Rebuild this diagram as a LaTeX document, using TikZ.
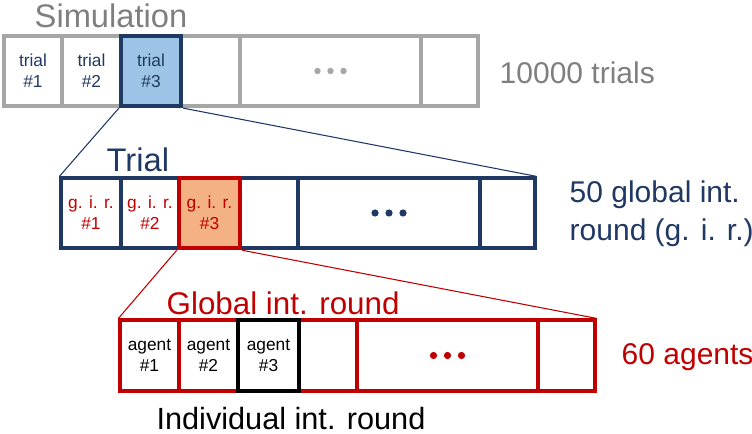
\documentclass[tikz,border=0pt]{standalone}
\usepackage{fontspec}
\setmainfont{Liberation Sans}
\usepackage{xcolor}
\usepackage{tikz}
\definecolor{simgray}{RGB}{166, 166, 166}
\definecolor{txtgray}{RGB}{127, 127, 127}
\definecolor{darkblue}{RGB}{32, 56, 100}
\definecolor{lightblue}{RGB}{157, 195, 230}
\definecolor{darkred}{RGB}{192, 0, 0}
\definecolor{lightorange}{RGB}{244, 177, 131}

\begin{document}
\begin{tikzpicture}[x=0.75pt, y=-0.75pt,
    cell/.style={draw, line width=2.4pt, inner sep=0pt, minimum height=52.5pt,
        align=center, font=\fontsize{13}{15.5}\selectfont},
    simcell/.style={cell, draw=simgray, text=darkblue},
    tricell/.style={cell, draw=darkblue, text=darkred},
    roundcell/.style={cell, draw=darkred, text=black, minimum height=53.25pt},
    title/.style={anchor=base west, font=\fontsize{24.5}{29}\selectfont},
    side/.style={anchor=west, align=left, font=\fontsize{22.5}{28.5}\selectfont}]
    \useasboundingbox (0,0) rectangle (752,434);

    % Simulation
    \node[title, txtgray] (simtitle) at (30,28) {Simulation};
    \node[simcell, minimum width=43.5pt] (sim1) at (33,71) {trial\\\#1};
    \node[simcell, minimum width=44.25pt] (sim2) at (91.5,71) {trial\\\#2};
    \node[simcell, minimum width=44.25pt] (sim4) at (210.5,71) {};
    \node[simcell, minimum width=135.75pt] (sim5) at (330.5,71) {};
    \node[simcell, minimum width=42.75pt] (sim6) at (449.5,71) {};
    \node[simcell, draw=darkblue, fill=lightblue, line width=3.2pt, minimum width=45pt] (sim3) at (151,71) {trial\\\#3};
    \foreach \d in {-13,0,13}
        \fill[simgray] ([xshift=\d*0.75pt]sim5.center) circle (2.4pt);
    \node[side, txtgray] (simlabel) at (495,73) {10000 trials};

    % Trial
    \node[title, darkblue] (trititle) at (102,172) {Trial};
    \node[tricell, minimum width=45pt] (tri1) at (91,213) {g. i. r.\\\#1};
    \node[tricell, minimum width=43.5pt] (tri2) at (150,213) {g. i. r.\\\#2};
    \node[tricell, minimum width=43.5pt] (tri4) at (269,213) {};
    \node[tricell, minimum width=136.5pt] (tri5) at (389,213) {};
    \node[tricell, minimum width=41.25pt] (tri6) at (507.5,213) {};
    \node[tricell, draw=darkred, fill=lightorange, line width=3.4pt, minimum width=45.75pt] (tri3) at (209.5,213) {g. i. r.\\\#3};
    \foreach \d in {-14,0,14}
        \fill[darkblue] ([xshift=\d*0.75pt]tri5.center) circle (2.7pt);
    \node[side, darkblue] (trilabel) at (565,214) {50 global int.\\round (g. i. r.)};

    % Global int. round
    \node[title, darkred, font=\fontsize{23.5}{28}\selectfont] (girtitle) at (162,315) {Global int. round};
    \node[roundcell, minimum width=44.25pt] (gir1) at (149.5,355.5) {agent\\\#1};
    \node[roundcell, minimum width=44.25pt] (gir2) at (208.5,355.5) {agent\\\#2};
    \node[roundcell, minimum width=43.5pt] (gir4) at (328,355.5) {};
    \node[roundcell, minimum width=135.75pt] (gir5) at (447.5,355.5) {};
    \node[roundcell, minimum width=42.75pt] (gir6) at (566.5,355.5) {};
    \node[roundcell, draw=black, line width=3pt, minimum width=45.75pt] (gir3) at (268.5,355.5) {agent\\\#3};
    \foreach \d in {-14,0,14}
        \fill[darkred] ([xshift=\d*0.75pt]gir5.center) circle (2.7pt);
    \node[side, darkred] (girlabel) at (617,357) {60 agents};
    \node[anchor=base, inner sep=0pt, font=\fontsize{23}{28}\selectfont] (indtitle) at (291,429) {Individual int. round};

    % 放大连线
    \draw[darkblue, line width=0.8pt] (sim3.south west) -- (tri1.north west);
    \draw[darkblue, line width=0.8pt] (sim3.south east) -- (tri6.north east);
    \draw[darkred, line width=0.8pt] (tri3.south west) -- (gir1.north west);
    \draw[darkred, line width=0.8pt] (tri3.south east) -- (gir6.north east);
\end{tikzpicture}
\end{document}
